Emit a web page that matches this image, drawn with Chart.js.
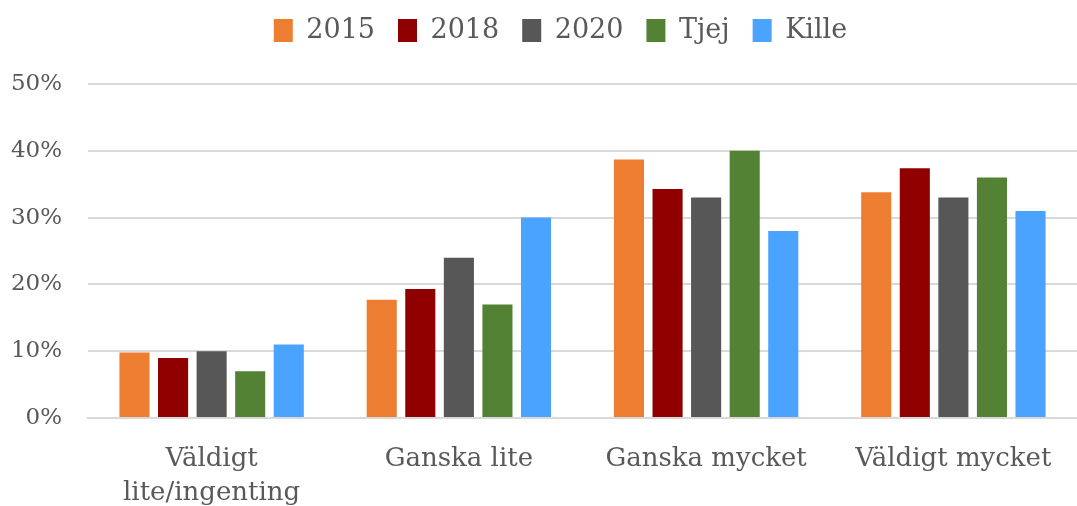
<!DOCTYPE html>
<html>
<head>
<meta charset="utf-8">
<script src="https://cdn.jsdelivr.net/npm/chart.js@4"></script>
<style>
html,body{margin:0;padding:0;background:#fff;}
#wrap{width:1077px;height:506px;position:relative;}
</style>
</head>
<body>
<div id="wrap"><canvas id="c"></canvas></div>
<script>
const categories = [["Väldigt", "lite/ingenting"], "Ganska lite", "Ganska mycket", "Väldigt mycket"];
const seriesNames = ["2015", "2018", "2020", "Tjej", "Kille"];
const v2015 = [9.8, 17.7, 38.7, 33.8];
const v2018 = [9.0, 19.3, 34.3, 37.4];
const v2020 = [10.0, 24.0, 33.0, 33.0];
const vTjej = [7.0, 17.0, 40.0, 36.0];
const vKille = [11.0, 30.0, 28.0, 31.0];
const yTicks = [0, 10, 20, 30, 40, 50];

const colors = ["#ED7D31", "#900000", "#575757", "#548235", "#4AA3FF"];
const values = [v2015, v2018, v2020, vTjej, vKille];

const font = "'DejaVu Serif', serif";

const layoutFix = {
  id: 'layoutFix',
  beforeInit(chart) {
    const lg = chart.legend;
    const orig = lg.fit;
    lg.fit = function () { orig.call(this); this.height = 84; };
  },
  afterLayout(chart) {
    chart.legend.left += 22;
    chart.legend.right += 22;
    chart.legend.top -= 6;
    chart.legend.bottom -= 6;
  }
};

new Chart(document.getElementById('c'), {
  type: 'bar',
  data: {
    labels: categories,
    datasets: seriesNames.map((n, i) => ({
      label: n,
      data: values[i],
      backgroundColor: colors[i],
      borderWidth: 0,
      categoryPercentage: 0.78,
      barPercentage: 0.78
    }))
  },
  plugins: [layoutFix],
  options: {
    responsive: true,
    maintainAspectRatio: false,
    animation: false,
    layout: { padding: 0 },
    plugins: {
      tooltip: { enabled: false },
      legend: {
        position: 'top',
        labels: {
          boxWidth: 19,
          boxHeight: 23,
          padding: 23,
          color: '#595959',
          font: { family: font, size: 27 }
        }
      }
    },
    scales: {
      x: {
        grid: { display: false, drawTicks: false },
        border: { display: true, color: '#d9d9d9', width: 2 },
        afterFit: (ax) => { ax.height = 88; },
        ticks: {
          color: '#595959',
          padding: 24,
          maxRotation: 0,
          autoSkip: false,
          font: { family: font, size: 26, lineHeight: 1.31 }
        }
      },
      y: {
        min: 0,
        max: 50,
        grid: { color: '#d9d9d9', lineWidth: 2, drawTicks: false },
        border: { display: false },
        afterFit: (ax) => { ax.width = 88; },
        afterBuildTicks: (ax) => { ax.ticks = yTicks.map(v => ({ value: v })); },
        ticks: {
          color: '#595959',
          padding: 26,
          font: { family: font, size: 23 },
          callback: (v) => v + '%'
        }
      }
    }
  }
});
</script>
</body>
</html>
